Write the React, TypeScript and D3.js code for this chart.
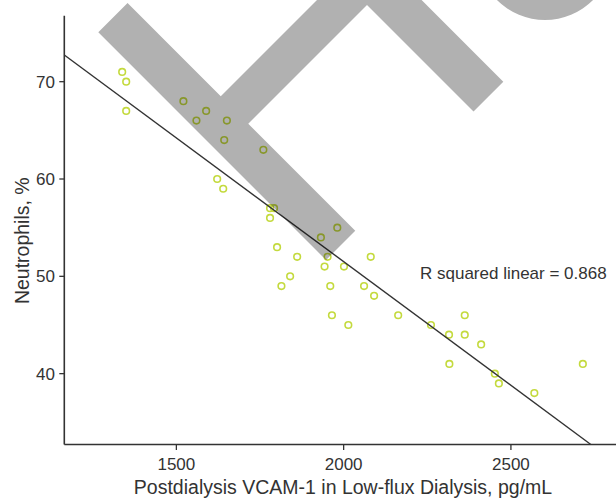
import React from "react";
import * as d3 from "d3";

const W = 616;
const H = 499;

// Data: [VCAM-1 pg/mL, Neutrophils %]
const vcam: number[] = [
  1338, 1350, 1350, 1521, 1589, 1560, 1651, 1643, 1760, 1622,
  1640, 1780, 1792, 1780, 1981, 1932, 1801, 1861, 1952, 2081,
  1943, 2001, 1840, 1814, 1960, 2061, 2091, 1965, 2163, 2014,
  2261, 2315, 2362, 2362, 2411, 2316, 2452, 2464, 2570, 2715,
];
const neutrophils: number[] = [
  71, 70, 67, 68, 67, 66, 66, 64, 63, 60,
  59, 57, 57, 56, 55, 54, 53, 52, 52, 52,
  51, 51, 50, 49, 49, 49, 48, 46, 46, 45,
  45, 44, 46, 44, 43, 41, 40, 39, 38, 41,
];
const xTicks: number[] = [1500, 2000, 2500];
const yTicks: number[] = [40, 50, 60, 70];
const fitIntercept = 102.37;
const fitSlope = -0.02543;
const rSquaredLabel = "R squared linear = 0.868";
const xLabel = "Postdialysis VCAM-1 in Low-flux Dialysis, pg/mL";
const yLabel = "Neutrophils, %";

// Decorative watermark outline (pixel space)
const watermark: [number, number][] = [
  [98.3, 32.3], [127.55, 3.05], [220.75, 96.25], [369.3, -52.3],
  [503.3, 81.7], [473.5, 111.5], [367, 5], [248.25, 123.75],
  [355.25, 230.75], [326, 260],
];

export default function App() {
  const left = 64.3;
  const bottom = 444.5;
  const top = 15.7;
  const x = d3.scaleLinear().domain([1165, 2815]).range([left, 616.3]);
  const y = d3.scaleLinear().domain([32.72, 76.78]).range([bottom, top]);

  const yMin = y.domain()[0];
  const xStart = x.domain()[0];
  const xEnd = (yMin - fitIntercept) / fitSlope;
  const fit = d3.line<number>().x((d) => x(d)).y((d) => y(fitIntercept + fitSlope * d));

  const pts = vcam.map((v, i) => ({ x: v, y: neutrophils[i] }));
  const font = "'Liberation Sans', Arial, sans-serif";
  const textColor = "#333";

  const ring = d3.arc()({ innerRadius: 28, outerRadius: 68, startAngle: 0, endAngle: 2 * Math.PI }) as string;

  return (
    <svg
      width={W}
      height={H}
      style={{ position: "absolute", left: 0, top: 0, background: "#fff" }}
      fontFamily={font}
    >
      <rect width={W} height={H} fill="#fff" />
      {/* axes */}
      <line x1={left} x2={left} y1={top} y2={bottom} stroke="#333" strokeWidth={1.6} />
      <line x1={left} x2={W} y1={bottom} y2={bottom} stroke="#333" strokeWidth={1.6} />
      {yTicks.map((t) => (
        <g key={"y" + t}>
          <line x1={left - 5} x2={left} y1={y(t)} y2={y(t)} stroke="#333" strokeWidth={1.3} />
          <text x={55} y={y(t)} dy="0.36em" textAnchor="end" fontSize={17} fill={textColor}>
            {t}
          </text>
        </g>
      ))}
      {xTicks.map((t) => (
        <g key={"x" + t}>
          <line x1={x(t)} x2={x(t)} y1={bottom} y2={bottom + 5.5} stroke="#333" strokeWidth={1.3} />
          <text x={x(t)} y={469.5} textAnchor="middle" fontSize={17} fill={textColor}>
            {t}
          </text>
        </g>
      ))}
      <text x={343} y={494} textAnchor="middle" fontSize={19.5} fill={textColor}>
        {xLabel}
      </text>
      <text
        transform={`translate(28.5, 240.7) rotate(-90)`}
        textAnchor="middle"
        fontSize={19.5}
        fill={textColor}
      >
        {yLabel}
      </text>
      <text x={420} y={278.5} fontSize={17} fill={textColor}>
        {rSquaredLabel}
      </text>

      {/* points */}
      {pts.map((p, i) => (
        <circle
          key={i}
          cx={x(p.x)}
          cy={y(p.y)}
          r={3.3}
          fill="none"
          stroke="#c4da3e"
          strokeWidth={1.6}
        />
      ))}
      {/* fit line */}
      <path d={fit([xStart, xEnd]) as string} fill="none" stroke="#333" strokeWidth={1.4} />

      {/* watermark */}
      <g style={{ mixBlendMode: "multiply" }}>
        <polygon points={watermark.map((p) => p.join(",")).join(" ")} fill="#b1b1b1" />
        <path d={ring} transform="translate(545,-48)" fill="#b1b1b1" />
      </g>
    </svg>
  );
}
